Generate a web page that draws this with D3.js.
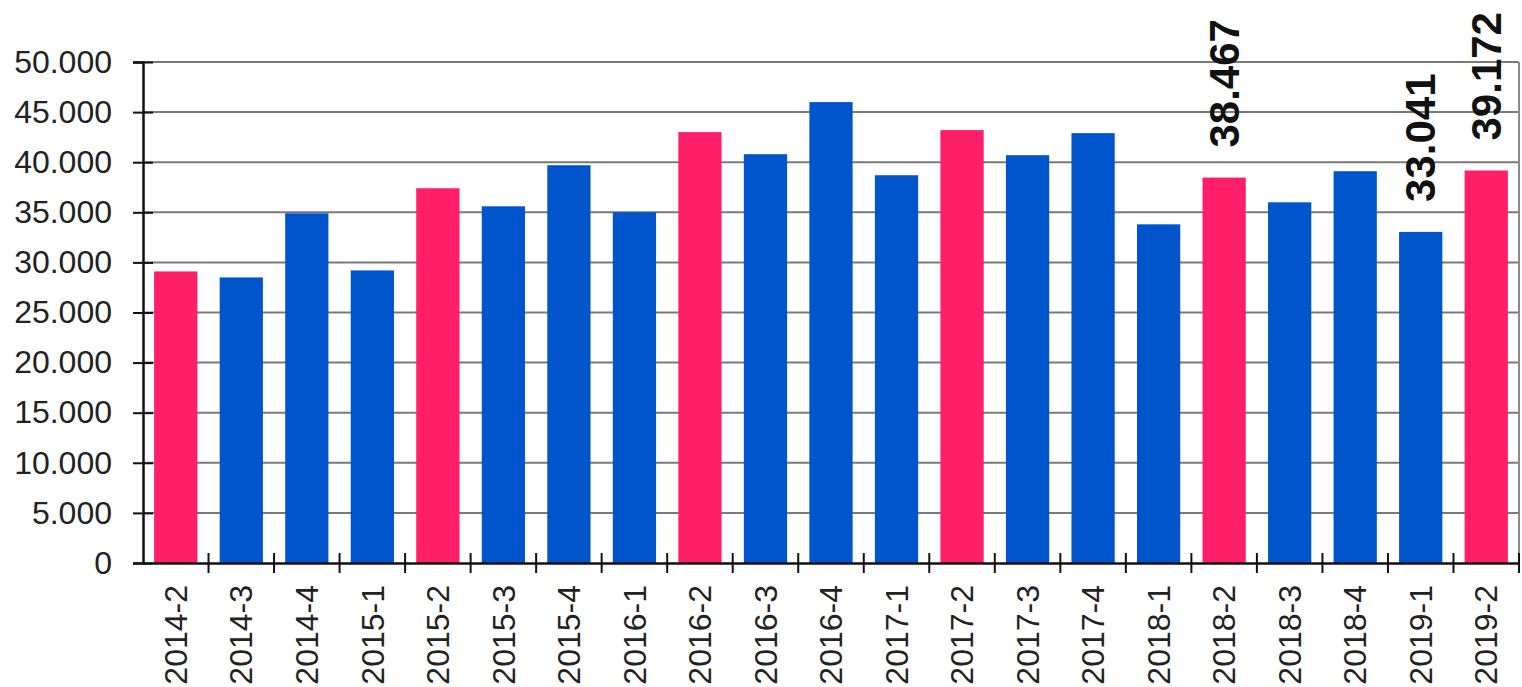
<!DOCTYPE html>
<html>
<head>
<meta charset="utf-8">
<script src="https://cdn.jsdelivr.net/npm/d3@7"></script>
<style>
  body { margin: 0; background: #fff; }
  svg { display: block; font-family: "Liberation Sans", Arial, sans-serif; }
</style>
</head>
<body>
<svg id="grafico" width="1522" height="687"></svg>
<script>
// Datos
var periodos = ["2014-2","2014-3","2014-4","2015-1","2015-2","2015-3","2015-4","2016-1","2016-2","2016-3","2016-4",
                "2017-1","2017-2","2017-3","2017-4","2018-1","2018-2","2018-3","2018-4","2019-1","2019-2"];
var valores = [29100, 28500, 34900, 29200, 37400, 35600, 39700, 35000, 43000, 40800, 46000,
               38700, 43200, 40700, 42900, 33800, 38467, 36000, 39100, 33041, 39172];
var destacados = ["2014-2","2015-2","2016-2","2017-2","2018-2","2019-2"]; // barras rojas
var etiquetados = ["2018-2","2019-1","2019-2"]; // barras con valor
var marcasY = [0, 5000, 10000, 15000, 20000, 25000, 30000, 35000, 40000, 45000, 50000];

var datos = periodos.map(function(p, i) { return { periodo: p, valor: valores[i] }; });

var margen = { left: 143, right: 3, top: 62, bottom: 124 };
var svg = d3.select("#grafico");
var ancho = 1522 - margen.left - margen.right;
var alto = 687 - margen.top - margen.bottom;

var formato = d3.formatLocale({ decimal: ",", thousands: ".", grouping: [3], currency: ["", ""] }).format(",d");

var x = d3.scaleBand().domain(periodos).range([0, ancho]).paddingInner(0.34).paddingOuter(0.17);
var y = d3.scaleLinear().domain([0, 50000]).range([alto, 0]);

var g = svg.append("g").attr("transform", "translate(" + margen.left + "," + margen.top + ")");

// Rejilla
g.selectAll(".rejilla")
  .data(marcasY.slice(1))
  .enter()
  .append("line")
  .attr("x1", 0).attr("x2", ancho)
  .attr("y1", function(d) { return y(d); })
  .attr("y2", function(d) { return y(d); })
  .attr("stroke", "#7a7a7a")
  .attr("stroke-width", 2);

// Borde derecho
g.append("line")
  .attr("x1", ancho).attr("x2", ancho)
  .attr("y1", 0).attr("y2", alto)
  .attr("stroke", "#8a8a8a").attr("stroke-width", 2);

// Barras
g.selectAll(".barra")
  .data(datos)
  .enter()
  .append("rect")
  .attr("x", function(d) { return x(d.periodo); })
  .attr("y", function(d) { return y(d.valor); })
  .attr("width", x.bandwidth())
  .attr("height", function(d) { return alto - y(d.valor); })
  .attr("fill", function(d) { return destacados.indexOf(d.periodo) >= 0 ? "#ff1f68" : "#0055cc"; });

// Eje izquierdo
var ejeY = d3.axisLeft(y).tickValues(marcasY).tickFormat(formato).tickSize(10).tickPadding(20);
var gy = g.append("g").call(ejeY);
gy.select(".domain").attr("stroke", "#111").attr("stroke-width", 2.5);
gy.selectAll(".tick line").attr("x2", -10).attr("x1", 10).attr("stroke", "#111").attr("stroke-width", 2);
gy.selectAll(".tick text").attr("font-size", 32).attr("fill", "#222").attr("x", -31);

// Eje inferior
var ejeX = d3.axisBottom(x).tickSize(0).tickPadding(0);
var gx = g.append("g").attr("transform", "translate(0," + alto + ")").call(ejeX);
gx.select(".domain").attr("stroke", "#111").attr("stroke-width", 2.5);
gx.selectAll(".tick text")
  .attr("font-size", 32)
  .attr("fill", "#222")
  .attr("transform", "rotate(-90)")
  .attr("x", -22)
  .attr("y", 0)
  .attr("dy", "0.35em")
  .style("text-anchor", "end");

// Marcas entre categorías
var limites = periodos.slice(1).map(function(p) { return x(p) - x.step() * x.paddingInner() / 2; });
limites.push(ancho);
g.selectAll(".separador")
  .data(limites)
  .enter()
  .append("line")
  .attr("x1", function(d) { return d; })
  .attr("x2", function(d) { return d; })
  .attr("y1", alto - 10).attr("y2", alto + 10)
  .attr("stroke", "#111").attr("stroke-width", 2);

// Etiquetas de valor
g.selectAll(".etiqueta")
  .data(datos.filter(function(d) { return etiquetados.indexOf(d.periodo) >= 0; }))
  .enter()
  .append("text")
  .attr("transform", function(d) {
    return "translate(" + (x(d.periodo) + x.bandwidth() / 2) + "," + (y(d.valor) - 30) + ") rotate(-90)";
  })
  .attr("dy", "0.35em")
  .attr("font-size", 42)
  .attr("font-weight", "bold")
  .attr("fill", "#111")
  .text(function(d) { return formato(d.valor); });
</script>
</body>
</html>
